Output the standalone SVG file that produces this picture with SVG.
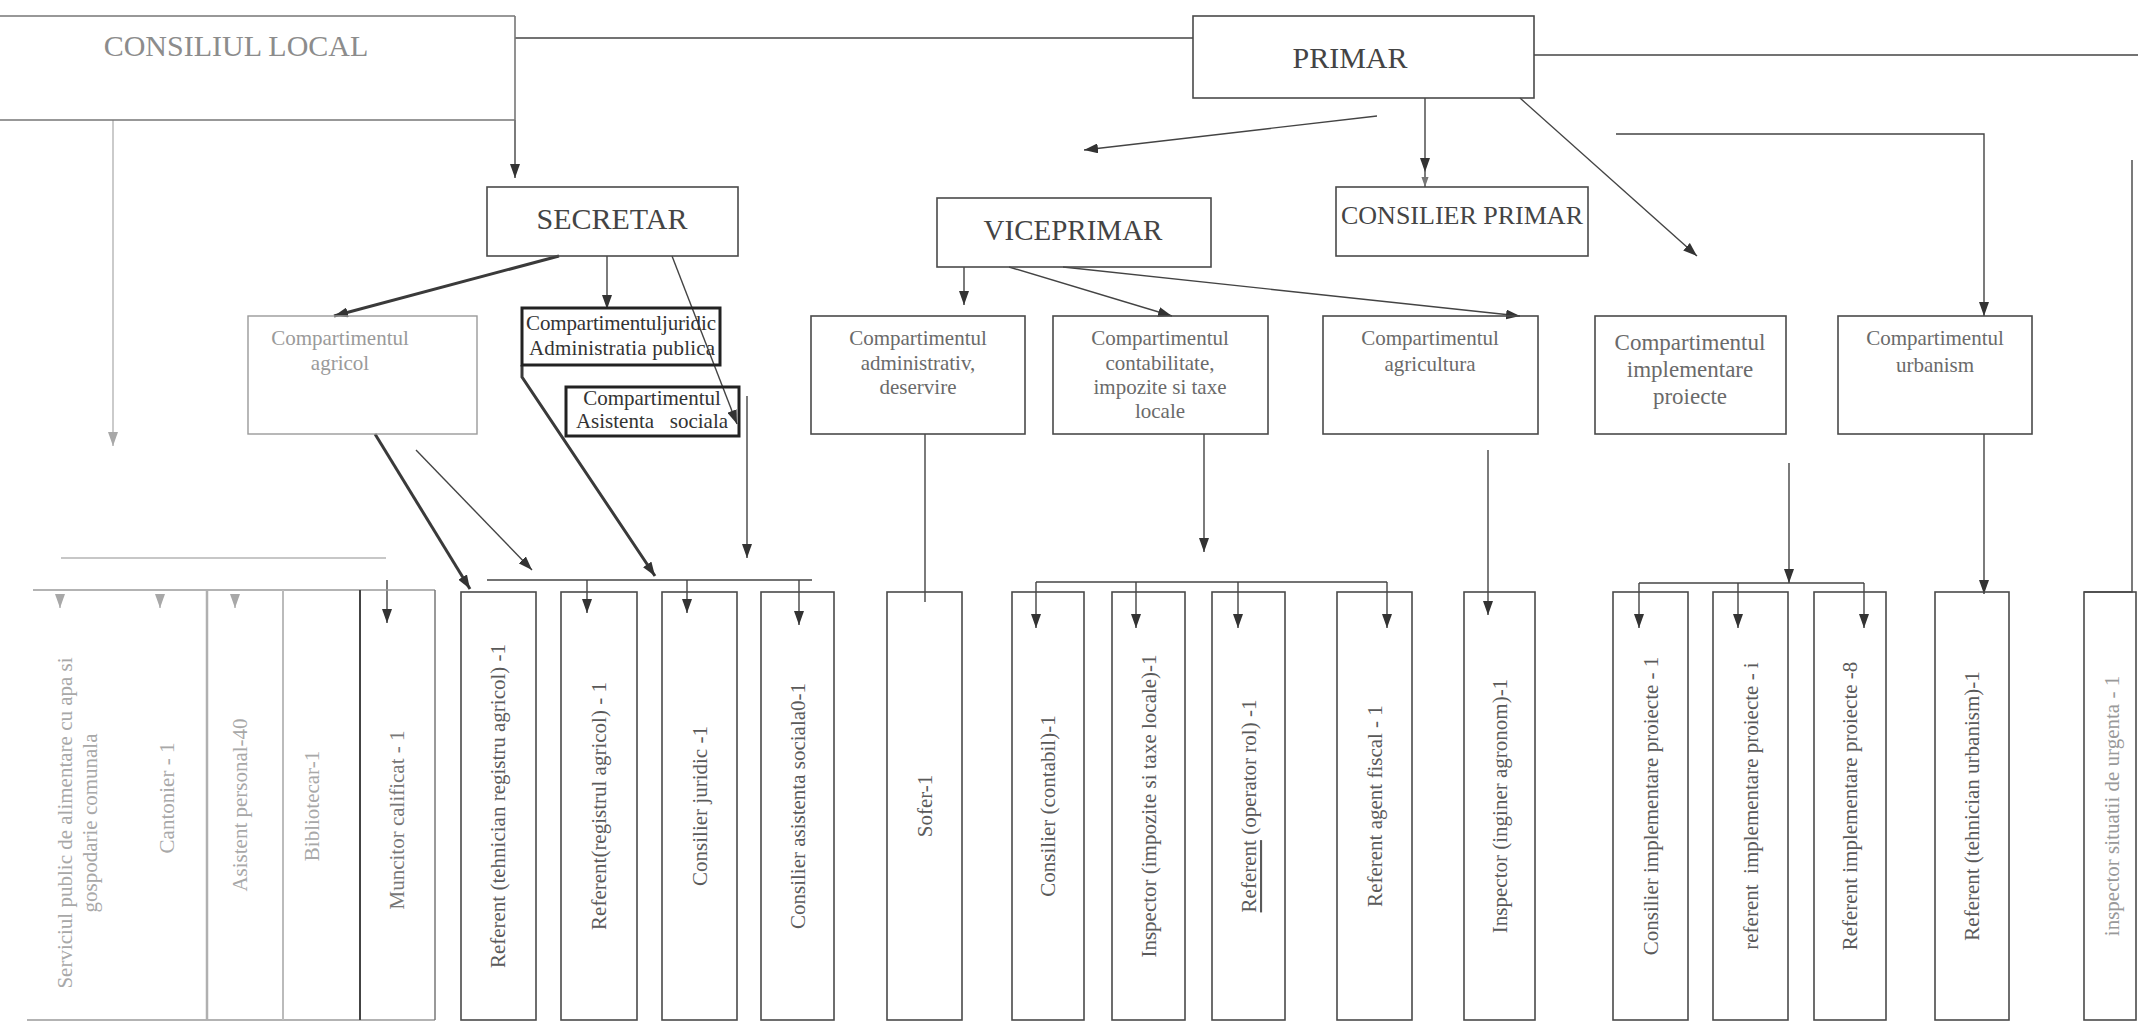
<svg xmlns="http://www.w3.org/2000/svg" width="2138" height="1027" viewBox="0 0 2138 1027">
<defs>
<style>
.bx{fill:none;stroke:#4a4a4a;stroke-width:1.6}
.bxl{fill:none;stroke:#9a9a9a;stroke-width:1.4}
.bxk{fill:none;stroke:#222;stroke-width:3}
.ln{fill:none;stroke:#444;stroke-width:1.4}
.lnt{fill:none;stroke:#3a3a3a;stroke-width:3}
.lnl{fill:none;stroke:#b5b5b5;stroke-width:1.4}
text{font-family:"Liberation Serif","Times New Roman",serif}
.big{font-size:30px;fill:#444;text-anchor:middle}
.cl{font-size:30px;fill:#8c8c8c;text-anchor:middle}
.cmp{font-size:21px;fill:#6a6a6a;text-anchor:middle}
.cmpl{font-size:21px;fill:#9a9a9a;text-anchor:middle}
.cmpd{font-size:21px;fill:#333;text-anchor:middle;white-space:pre}
.v{font-size:21px;fill:#5a5a5a;text-anchor:middle;dominant-baseline:central;white-space:pre}
.vl{font-size:21px;fill:#a8a8a8;text-anchor:middle;dominant-baseline:central}
</style>
<marker id="a" viewBox="0 0 14 10" refX="14" refY="5" markerWidth="14" markerHeight="10" markerUnits="userSpaceOnUse" orient="auto"><path d="M0,0L14,5L0,10z" fill="#333"/></marker>
<marker id="al" viewBox="0 0 14 10" refX="14" refY="5" markerWidth="14" markerHeight="10" markerUnits="userSpaceOnUse" orient="auto"><path d="M0,0L14,5L0,10z" fill="#a8a8a8"/></marker>
<marker id="as" viewBox="0 0 14 10" refX="14" refY="5" markerWidth="10" markerHeight="8" markerUnits="userSpaceOnUse" orient="auto"><path d="M0,0L14,5L0,10z" fill="#777"/></marker>
</defs>
<rect width="2138" height="1027" fill="#fff"/>

<g id="connectors">
<path class="ln" d="M515,120V178" marker-end="url(#a)"/>
<path class="ln" d="M515,38H1193"/>
<path class="ln" d="M1534,55H2138"/>
<path class="ln" d="M1377,116L1084,150" marker-end="url(#a)"/>
<path class="ln" d="M1425,98V172" marker-end="url(#a)"/>
<path class="ln" d="M1425,172V187" marker-end="url(#as)"/>
<path class="ln" d="M1520,98L1697,256" marker-end="url(#a)"/>
<path class="ln" d="M1616,134H1984V316" marker-end="url(#a)"/>
<path class="ln" d="M2132,160V592H2084"/>
<path class="lnl" d="M113,120V446" marker-end="url(#al)"/>
<path class="lnt" d="M559,256L334,316" marker-end="url(#a)"/>
<path class="ln" d="M607,256V309" marker-end="url(#a)"/>
<path class="ln" d="M672,256L737,424" marker-end="url(#a)"/>
<path class="ln" d="M964,267V305" marker-end="url(#a)"/>
<path class="ln" d="M1009,267L1172,316" marker-end="url(#a)"/>
<path class="ln" d="M1063,267L1520,316" marker-end="url(#a)"/>
<path class="lnt" d="M375,434L470,589" marker-end="url(#a)"/>
<path class="ln" d="M416,450L532,570" marker-end="url(#a)"/>
<path class="lnt" d="M522,365V377L655,576" marker-end="url(#a)"/>
<path class="ln" d="M747,396V558" marker-end="url(#a)"/>
<path class="ln" d="M487,580H812"/>
<path class="ln" d="M587,580V613" marker-end="url(#a)"/>
<path class="ln" d="M687,580V613" marker-end="url(#a)"/>
<path class="ln" d="M799,580V625" marker-end="url(#a)"/>
<path class="ln" d="M925,434V602"/>
<path class="ln" d="M1204,434V552" marker-end="url(#a)"/>
<path class="ln" d="M1036,582H1387"/>
<path class="ln" d="M1036,582V628" marker-end="url(#a)"/>
<path class="ln" d="M1136,582V628" marker-end="url(#a)"/>
<path class="ln" d="M1238,582V628" marker-end="url(#a)"/>
<path class="ln" d="M1387,582V628" marker-end="url(#a)"/>
<path class="ln" d="M1488,450V615" marker-end="url(#a)"/>
<path class="ln" d="M1789,463V583" marker-end="url(#a)"/>
<path class="ln" d="M1639,583H1864"/>
<path class="ln" d="M1639,583V628" marker-end="url(#a)"/>
<path class="ln" d="M1738,583V628" marker-end="url(#a)"/>
<path class="ln" d="M1864,583V628" marker-end="url(#a)"/>
<path class="ln" d="M1984,434V594" marker-end="url(#a)"/>
<path class="lnl" d="M60,594V608" marker-end="url(#al)"/>
<path class="lnl" d="M160,594V608" marker-end="url(#al)"/>
<path class="lnl" d="M235,594V608" marker-end="url(#al)"/>
<path class="ln" d="M387,580V623" marker-end="url(#a)"/>
<path class="lnl" d="M61,558H386"/>
</g>

<g id="consiliul-local">
<path class="bx" style="stroke:#777" d="M0,16H515M0,120H515M515,16V120"/>
<text class="cl" x="236" y="56">CONSILIUL LOCAL</text>
</g>
<g id="primar">
<rect class="bx" x="1193" y="16" width="341" height="82"/>
<text class="big" x="1350" y="68">PRIMAR</text>
</g>
<g id="secretar">
<rect class="bx" x="487" y="187" width="251" height="69"/>
<text class="big" x="612" y="229">SECRETAR</text>
</g>
<g id="viceprimar">
<rect class="bx" x="937" y="198" width="274" height="69"/>
<text class="big" style="font-size:29px" x="1073" y="240">VICEPRIMAR</text>
</g>
<g id="consilier-primar">
<rect class="bx" x="1336" y="187" width="252" height="69"/>
<text class="big" style="font-size:26px" x="1462" y="224">CONSILIER PRIMAR</text>
</g>

<g id="comp-agricol">
<rect class="bxl" x="248" y="316" width="229" height="118"/>
<text class="cmpl" x="340" y="345">Compartimentul</text>
<text class="cmpl" x="340" y="370">agricol</text>
</g>
<g id="comp-juridic">
<rect class="bxk" x="522" y="308" width="198" height="57"/>
<text class="cmpd" x="621" y="330" textLength="190">Compartimentuljuridic</text>
<text class="cmpd" x="622" y="355" textLength="186">Administratia publica</text>
</g>
<g id="comp-asistenta">
<rect class="bxk" x="566" y="387" width="173" height="49"/>
<text class="cmpd" x="652" y="405">Compartimentul</text>
<text class="cmpd" x="652" y="428">Asistenta   sociala</text>
</g>
<g id="comp-administrativ">
<rect class="bx" x="811" y="316" width="214" height="118"/>
<text class="cmp" x="918" y="345">Compartimentul</text>
<text class="cmp" x="918" y="370">administrativ,</text>
<text class="cmp" x="918" y="394">deservire</text>
</g>
<g id="comp-contabilitate">
<rect class="bx" x="1053" y="316" width="215" height="118"/>
<text class="cmp" x="1160" y="345">Compartimentul</text>
<text class="cmp" x="1160" y="370">contabilitate,</text>
<text class="cmp" x="1160" y="394">impozite si taxe</text>
<text class="cmp" x="1160" y="418">locale</text>
</g>
<g id="comp-agricultura">
<rect class="bx" x="1323" y="316" width="215" height="118"/>
<text class="cmp" x="1430" y="345">Compartimentul</text>
<text class="cmp" x="1430" y="371">agricultura</text>
</g>
<g id="comp-implementare">
<rect class="bx" x="1595" y="316" width="191" height="118"/>
<text class="cmp" style="font-size:23px" x="1690" y="350">Compartimentul</text>
<text class="cmp" style="font-size:23px" x="1690" y="377">implementare</text>
<text class="cmp" style="font-size:23px" x="1690" y="404">proiecte</text>
</g>
<g id="comp-urbanism">
<rect class="bx" x="1838" y="316" width="194" height="118"/>
<text class="cmp" x="1935" y="345">Compartimentul</text>
<text class="cmp" x="1935" y="372">urbanism</text>
</g>

<g id="grup-consiliu">
<path class="bxl" d="M33,590H435M27,1020H435"/>
<path d="M207,590V1020" stroke="#b0b0b0" stroke-width="2.5"/>
<path d="M283,590V1020" stroke="#bbb" stroke-width="2"/>
<path d="M360,590V1020" stroke="#444" stroke-width="2"/>
<path d="M435,590V1020" stroke="#777" stroke-width="1.5"/>
<text class="vl" transform="translate(65,823) rotate(-90)">Serviciul public de alimentare cu apa si</text>
<text class="vl" transform="translate(90,823) rotate(-90)">gospodarie comunala</text>
<text class="vl" transform="translate(167,798) rotate(-90)">Cantonier - 1</text>
<text class="vl" transform="translate(240,805) rotate(-90)">Asistent personal-40</text>
<text class="vl" transform="translate(312,806) rotate(-90)">Bibliotecar-1</text>
<text class="v" style="fill:#777" transform="translate(397,820) rotate(-90)">Muncitor calificat - 1</text>
</g>

<g id="post-referent-tehnician-agricol"><rect class="bx" x="461" y="592" width="75" height="428"/><text class="v" transform="translate(498,806) rotate(-90)">Referent (tehnician registru agricol) -1</text></g>
<g id="post-referent-registrul"><rect class="bx" x="561" y="592" width="76" height="428"/><text class="v" transform="translate(599,806) rotate(-90)">Referent(registrul agricol) - 1</text></g>
<g id="post-consilier-juridic"><rect class="bx" x="662" y="592" width="75" height="428"/><text class="v" transform="translate(700,806) rotate(-90)">Consilier juridic -1</text></g>
<g id="post-consilier-asistenta"><rect class="bx" x="761" y="592" width="73" height="428"/><text class="v" transform="translate(798,806) rotate(-90)">Consilier asistenta sociala0-1</text></g>
<g id="post-sofer"><rect class="bx" x="887" y="592" width="75" height="428"/><text class="v" transform="translate(925,806) rotate(-90)">Sofer-1</text></g>
<g id="post-consilier-contabil"><rect class="bx" x="1012" y="592" width="72" height="428"/><text class="v" transform="translate(1048,806) rotate(-90)">Consilier (contabil)-1</text></g>
<g id="post-inspector-impozite"><rect class="bx" x="1112" y="592" width="73" height="428"/><text class="v" transform="translate(1149,806) rotate(-90)">Inspector (impozite si taxe locale)-1</text></g>
<g id="post-referent-operator"><rect class="bx" x="1212" y="592" width="73" height="428"/><text class="v" transform="translate(1249,806) rotate(-90)"><tspan text-decoration="underline">Referent</tspan> (operator rol) -1</text></g>
<g id="post-referent-fiscal"><rect class="bx" x="1337" y="592" width="75" height="428"/><text class="v" transform="translate(1375,806) rotate(-90)">Referent agent fiscal - 1</text></g>
<g id="post-inspector-agronom"><rect class="bx" x="1464" y="592" width="71" height="428"/><text class="v" transform="translate(1500,806) rotate(-90)">Inspector (inginer agronom)-1</text></g>
<g id="post-consilier-implementare"><rect class="bx" x="1613" y="592" width="75" height="428"/><text class="v" transform="translate(1651,806) rotate(-90)">Consilier implementare proiecte - 1</text></g>
<g id="post-referent-implementare"><rect class="bx" x="1713" y="592" width="75" height="428"/><text class="v" transform="translate(1751,806) rotate(-90)">referent  implementare proiecte - i</text></g>
<g id="post-referent-implementare-8"><rect class="bx" x="1814" y="592" width="72" height="428"/><text class="v" transform="translate(1850,806) rotate(-90)">Referent implementare proiecte -8</text></g>
<g id="post-referent-urbanism"><rect class="bx" x="1935" y="592" width="74" height="428"/><text class="v" transform="translate(1972,806) rotate(-90)">Referent (tehnician urbanism)-1</text></g>
<g id="post-inspector-urgenta"><rect class="bx" x="2084" y="592" width="52" height="428"/><text class="vl" style="fill:#999" transform="translate(2112,806) rotate(-90)">inspector situatii de urgenta - 1</text></g>
</svg>
